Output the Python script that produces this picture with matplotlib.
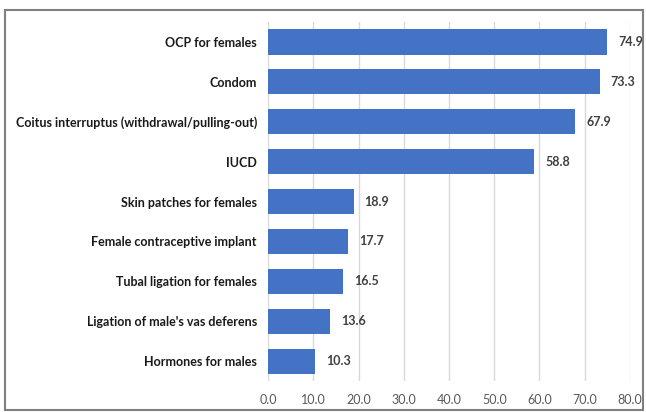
import matplotlib.pyplot as plt
from matplotlib.patches import Rectangle

methods = [
    "OCP for females",
    "Condom",
    "Coitus interruptus (withdrawal/pulling-out)",
    "IUCD",
    "Skin patches for females",
    "Female contraceptive implant",
    "Tubal ligation for females",
    "Ligation of male's vas deferens",
    "Hormones for males",
]
percent = [74.9, 73.3, 67.9, 58.8, 18.9, 17.7, 16.5, 13.6, 10.3]
xticks = [0, 10, 20, 30, 40, 50, 60, 70, 80]

plt.rcParams['font.family'] = ['Lato', 'DejaVu Sans']

fig = plt.figure(figsize=(6.46, 4.12), dpi=100)
ax = fig.add_axes([0.4149, 0.0752, 0.5603, 0.8714])

pos = list(range(len(methods)))
bars = ax.barh(pos, percent, height=0.63, color='#4472c4', zorder=3)
ax.bar_label(bars, labels=[f'{v:.1f}' for v in percent], padding=8,
             fontsize=9, fontweight='bold', color='#404040')

ax.set_yticks(pos)
ax.set_yticklabels(methods, fontsize=9, fontweight='bold', color='#1a1a1a')
ax.set_ylim(len(methods) - 0.5, -0.5)
ax.set_xlim(0, 80)
ax.set_xticks(xticks)
ax.set_xticklabels([f'{t:.1f}' for t in xticks], fontsize=9, color='#595959')
ax.tick_params(axis='both', length=0)
ax.tick_params(axis='x', pad=9)
ax.tick_params(axis='y', pad=8)
ax.grid(axis='x', color='#d9d9d9', linewidth=1, zorder=0)
for s in ax.spines.values():
    s.set_visible(False)

# outer chart frame
fig.patches.append(Rectangle((5 / 646, 2 / 412), 638 / 646, 400 / 412,
                             transform=fig.transFigure, fill=False,
                             edgecolor='#7f7f7f', linewidth=1.5))

fig.savefig('out.png', dpi=100)
